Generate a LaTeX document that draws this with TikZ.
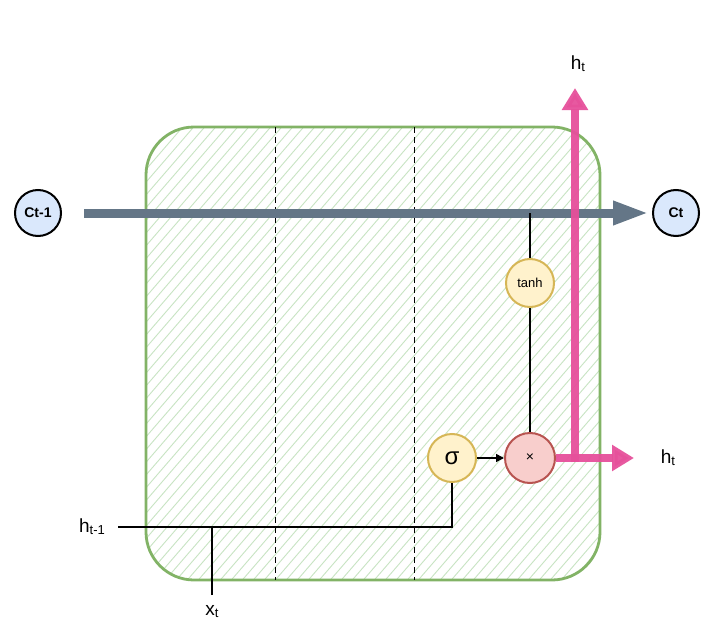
\documentclass[tikz,border=0pt]{standalone}
\usepackage{fontspec}
\setmainfont{Liberation Sans}
\usetikzlibrary{arrows.meta,calc,positioning}
\definecolor{CellGreen}{RGB}{130,179,102}
\definecolor{HatchGreen}{RGB}{200,228,195}
\definecolor{StateGray}{RGB}{100,118,135}
\definecolor{OutPink}{RGB}{230,80,155}
\definecolor{BlueFill}{RGB}{218,232,252}
\definecolor{YellowFill}{RGB}{255,242,204}
\definecolor{YellowLine}{RGB}{214,182,86}
\definecolor{RedFill}{RGB}{248,206,204}
\definecolor{RedLine}{RGB}{184,84,80}

\tikzset{
  statenode/.style={circle,draw=black,line width=2pt,fill=BlueFill,minimum size=46pt,inner sep=0pt,font=\fontsize{14}{16}\selectfont\bfseries},
  gatenode/.style={circle,draw=YellowLine,line width=2pt,fill=YellowFill,minimum size=48pt,inner sep=0pt},
  mulnode/.style={circle,draw=RedLine,line width=2pt,fill=RedFill,minimum size=50pt,inner sep=0pt},
  wire/.style={line width=1.5pt,black},
  divider/.style={line width=1pt,dash pattern=on 6pt off 4pt},
  statearrow/.style={line width=9pt,StateGray,-{Triangle[length=36pt,width=22pt]}},
  outarrow/.style={line width=8pt,OutPink,opacity=0.95,-{Triangle[length=22pt,width=25pt]}},
  hatchline/.style={HatchGreen,line width=0.9pt},
  lbl/.style={font=\fontsize{19}{22}\selectfont}
}
\newcommand{\subt}[2]{#1\raisebox{-2pt}{\fontsize{13}{15}\selectfont #2}}

\begin{document}
\begin{tikzpicture}[x=1pt,y=-1pt]
\useasboundingbox (0,0) rectangle (713,637);
% cell body
\begin{scope}
  \clip[rounded corners=48] (146,127) rectangle (600,580);
  \fill[white] (146,127) rectangle (600,580);
  \foreach \x in {-400,-389,...,600}
    \draw[hatchline] (\x,585) -- ++(400,-463);
\end{scope}
\draw[CellGreen,line width=2.8pt,rounded corners=48] (146,127) rectangle (600,580);
\draw[divider] (275,127) -- (275,580);
\draw[divider] (414,127) -- (414,580);

% states
\node[statenode] (cprev) at (38,213) {Ct-1};
\node[statenode] (cnext) at (676,213) {Ct};
\coordinate (cstart) at (84,213);
\coordinate (cend) at (649,213);
\draw[statearrow] (cstart) -- (cend);

% gates
\node[gatenode] (tanh) at (530,283) {\fontsize{13}{15}\selectfont tanh};
\node[mulnode] (mul) at (530,458) {\fontsize{14}{16}\selectfont ×};
\node[gatenode] (sig) at (452,458) {\fontsize{24}{26}\selectfont σ};
\coordinate (tap) at (530,213);
\draw[wire] (tap) -- (tanh);
\draw[wire] (tanh) -- (mul);
\draw[wire,-{Triangle[length=8pt,width=8pt]}] (sig) -- (mul);

% inputs
\node[lbl] (hprev) at (92,527) {\subt{h}{t-1}};
\node[lbl] (xin) at (212,612) {\subt{x}{t}};
\coordinate (hstart) at (118,527);
\coordinate (xstart) at (212,595);
\draw[wire] (hstart) -| (sig.south);
\draw[wire] (xstart) -- (xstart |- hstart);

% outputs
\node[lbl] (hup) at (578,64) {\subt{h}{t}};
\node[lbl] (hright) at (668,458) {\subt{h}{t}};
\coordinate (uptip) at (575,88);
\coordinate (righttip) at (634,458);
\draw[outarrow] (mul.east) -- (righttip);
\draw[outarrow] (575,462) -- (uptip);
\end{tikzpicture}
\end{document}
